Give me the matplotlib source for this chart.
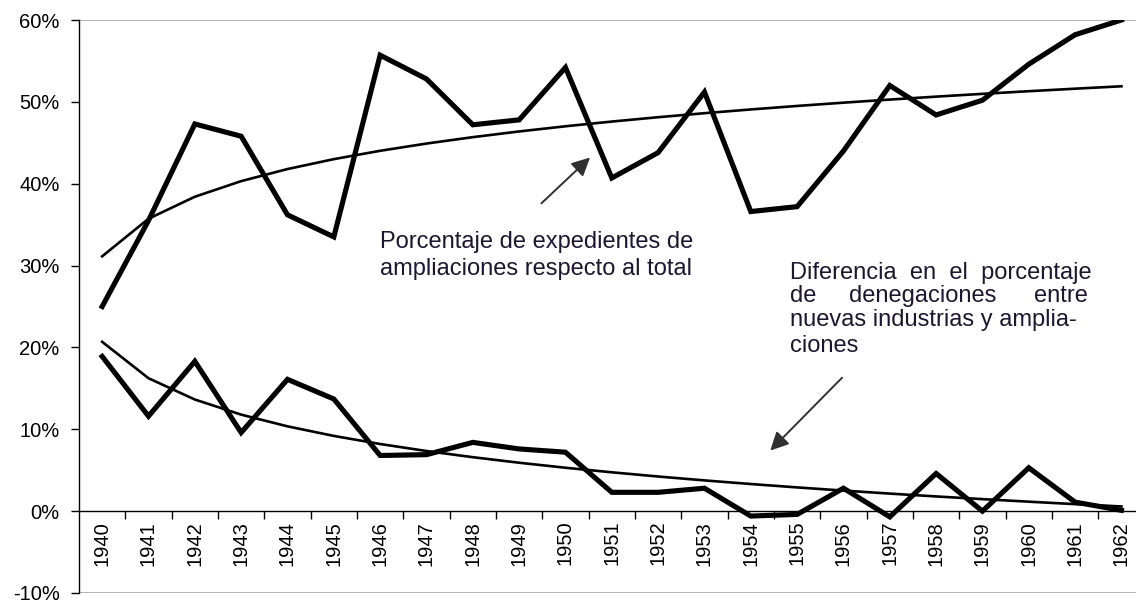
import numpy as np
import matplotlib
matplotlib.use("Agg")
import matplotlib.pyplot as plt

years = [str(y) for y in range(1940, 1963)]
ampliaciones = [25.0, 35.5, 47.3, 45.8, 36.2, 33.5, 55.7, 52.8, 47.2, 47.8, 54.2, 40.7,
                43.8, 51.2, 36.6, 37.2, 44.0, 52.0, 48.4, 50.2, 54.6, 58.2, 60.0]
diferencia = [18.9, 11.6, 18.3, 9.6, 16.1, 13.7, 6.8, 6.9, 8.4, 7.6, 7.2, 2.3,
              2.3, 2.8, -0.6, -0.4, 2.8, -0.7, 4.6, 0.0, 5.3, 1.1, 0.1]
yticks = [-10, 0, 10, 20, 30, 40, 50, 60]

plt.rcParams['font.family'] = ['Liberation Sans', 'DejaVu Sans']

W, H = 1136, 603
fig = plt.figure(figsize=(W / 100, H / 100), dpi=100)
left_px, right_px = 79, 1144.6
top_px, bot_px = 20, 593
ax = fig.add_axes([left_px / W, (H - bot_px) / H, (right_px - left_px) / W, (bot_px - top_px) / H])

x = np.arange(len(years))
xn = x + 1.0

def log_trend(vals):
    b, a = np.polyfit(np.log(xn), np.asarray(vals, float), 1)
    return a + b * np.log(xn)

ax.plot(x, log_trend(ampliaciones), color='black', lw=1.9, solid_joinstyle='round', zorder=3)
ax.plot(x, log_trend(diferencia), color='black', lw=1.9, solid_joinstyle='round', zorder=3)
ax.plot(x, ampliaciones, color='black', lw=3.7, solid_joinstyle='miter', zorder=4)
ax.plot(x, diferencia, color='black', lw=3.7, solid_joinstyle='miter', zorder=4)

ax.set_xlim(-0.5, len(years) - 0.5)
ax.set_ylim(-10, 60)

for s in ['top', 'right']:
    ax.spines[s].set_visible(False)
ax.spines['bottom'].set_position(('data', 0))
ax.spines['bottom'].set_color('black')
ax.spines['bottom'].set_linewidth(1.0)
ax.spines['left'].set_linewidth(1.0)
ax.axhline(60, color='#a8a8a8', lw=1.2, zorder=1)
ax.axhline(-10, color='#a8a8a8', lw=1.2, zorder=1)

ax.set_yticks(yticks)
ax.set_yticklabels([f"{v}%" for v in yticks])
ax.tick_params(axis='y', direction='out', length=6, width=1, labelsize=14.5, pad=8, colors='black')
for lbl in ax.get_yticklabels():
    lbl.set_verticalalignment('center_baseline')

ax.set_xticks(x)
ax.set_xticklabels(years, rotation=90, va='top', ha='center')
ax.set_xticks(np.arange(0.5, len(years) - 0.5, 1.0), minor=True)
ax.tick_params(axis='x', which='major', length=0, labelsize=14.5, pad=7)
ax.tick_params(axis='x', which='minor', direction='out', length=6, width=1)

tc = '#1c1630'
fs = 17
ax.text(6.0, 32.2, "Porcentaje de expedientes de", fontsize=fs, color=tc, ha='left', va='baseline')
ax.text(6.0, 28.9, "ampliaciones respecto al total", fontsize=fs, color=tc, ha='left', va='baseline')

x0, x1 = 14.85, 21.28
ax.text(x0, 28.4, "Diferencia  en  el  porcentaje", fontsize=fs, color=tc, ha='left', va='baseline')
ax.text(x0, 25.5, "de", fontsize=fs, color=tc, ha='left', va='baseline')
ax.text((x0 + x1) / 2 - 0.35, 25.5, "denegaciones", fontsize=fs, color=tc, ha='center', va='baseline')
ax.text(x1, 25.5, "entre", fontsize=fs, color=tc, ha='right', va='baseline')
ax.text(x0, 22.6, "nuevas industrias y amplia-", fontsize=fs, color=tc, ha='left', va='baseline')
ax.text(x0, 19.5, "ciones", fontsize=fs, color=tc, ha='left', va='baseline')

arrow = dict(arrowstyle='-|>,head_length=1.1,head_width=0.55', color='#303030', lw=1.4, shrinkA=0, shrinkB=0)
ax.annotate("", xy=(10.53, 43.2), xytext=(9.48, 37.6), arrowprops=arrow)
ax.annotate("", xy=(14.42, 7.4), xytext=(15.97, 16.3), arrowprops=arrow)

fig.savefig("out.png", dpi=100)
